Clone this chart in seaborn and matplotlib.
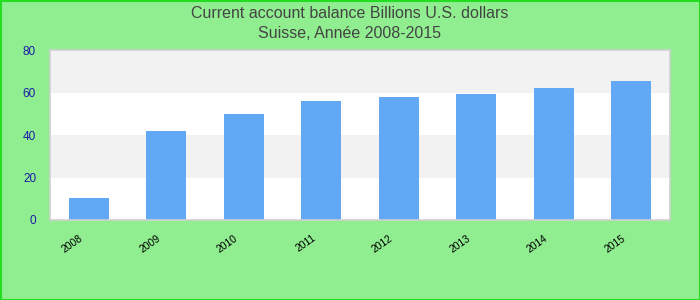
import matplotlib
matplotlib.use("Agg")
import matplotlib.pyplot as plt
import matplotlib.transforms as mtransforms
import seaborn as sns
import pandas as pd

years = ["2008", "2009", "2010", "2011", "2012", "2013", "2014", "2015"]
balance = [10.2, 41.9, 49.9, 56.0, 57.9, 59.3, 62.1, 65.4]
y_ticks = [0, 20, 40, 60, 80]
title_lines = ["Current account balance Billions U.S. dollars", "Suisse, Année 2008-2015"]

sns.set_theme(style="white")
plt.rcParams['font.family'] = ['Liberation Sans', 'DejaVu Sans']

df = pd.DataFrame({"year": years, "value": balance})

fig = plt.figure(figsize=(7, 3), dpi=100, facecolor="#90ee90")
ax = fig.add_axes([50/700, 80/300, 620/700, 170/300])
ax.set_facecolor("white")

# alternating bands
for i in range(len(y_ticks) - 1):
    if i % 2 == 1:
        ax.axhspan(y_ticks[i], y_ticks[i + 1], color="#f2f2f2", zorder=0, lw=0)

sns.barplot(data=df, x="year", y="value", color="#61a9f5", saturation=1,
            width=0.52, ax=ax, zorder=2, edgecolor="none", linewidth=0)
ax.set_xlim(-0.5, len(years) - 0.5)
ax.set_ylim(0, 80)
ax.set_yticks(y_ticks)
ax.set_xticks(range(len(years)))
ax.tick_params(axis="y", length=0, pad=10)
ax.tick_params(axis="x", length=0, pad=9.5)
ax.set_yticklabels([str(t) for t in y_ticks], color="#1a1aa8", fontsize=8.5)
ax.set_xticklabels(years, rotation=35, ha="right", va="top",
                   color="black", fontsize=7.4)
offset = mtransforms.ScaledTranslation(-4/100, 0, fig.dpi_scale_trans)
for lbl in ax.get_xticklabels():
    lbl.set_transform(lbl.get_transform() + offset)
ax.set_xlabel("")
ax.set_ylabel("")
for s in ax.spines.values():
    s.set_color("#d0d0d0")
    s.set_linewidth(1.2)

fig.text(0.5, 1 - 13/300, title_lines[0], ha="center", va="center",
         fontsize=11.5, color="#444444")
fig.text(0.5, 1 - 33/300, title_lines[1], ha="center", va="center",
         fontsize=11.5, color="#444444")

border = plt.Rectangle((0.5/700, 0.5/300), 699/700, 299/300, transform=fig.transFigure,
                       fill=False, edgecolor="#22dd22", linewidth=1.5)
fig.patches.append(border)

fig.savefig("out.png", dpi=100, facecolor=fig.get_facecolor())
